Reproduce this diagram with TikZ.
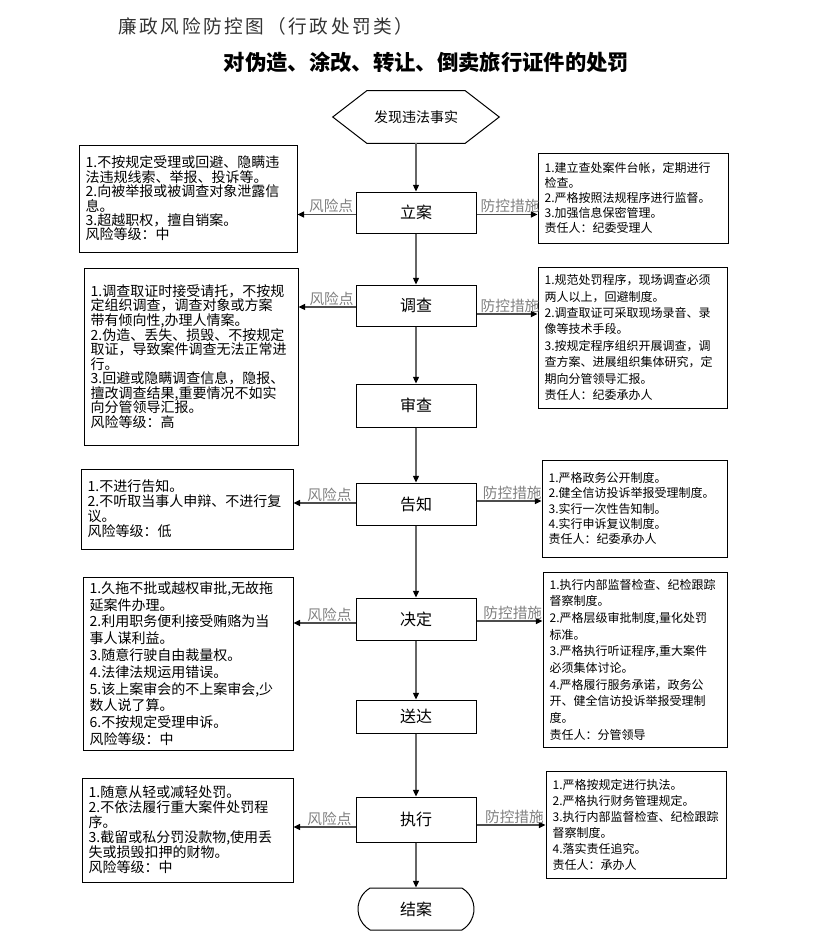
\documentclass[tikz,border=0pt]{standalone}
\usepackage{fontspec}
\setmainfont{Noto Sans CJK SC}
\newfontfamily\titlefont[LetterSpace=14]{Noto Sans CJK SC}
\usetikzlibrary{arrows.meta,shapes.misc,calc}
\begin{document}
\begin{tikzpicture}[x=0.75pt,y=-0.75pt,
  mainbox/.style={draw, line width=0.75pt, minimum width=90pt, inner sep=0pt, font=\fontsize{12}{14}\selectfont},
  lbox/.style={draw, line width=0.75pt, align=left, inner xsep=5pt, inner ysep=2pt, font={\fontsize{10.5}{#1}\selectfont\lineskiplimit=-20pt}},
  rbox/.style={draw, line width=0.75pt, align=left, inner xsep=5pt, inner ysep=2pt, font={\fontsize{9}{#1}\selectfont\lineskiplimit=-20pt}},
  conn/.style={line width=0.9pt, draw=black!60, -{Triangle[length=5pt,width=4.5pt,color=black]}},
  harr/.style={line width=1.1pt, draw=black!70, -{Triangle[length=5pt,width=4.5pt,color=black]}},
  lbl/.style={text=black!50, font=\fontsize{11}{13}\selectfont, inner sep=0.6pt, above}
]
\useasboundingbox (0,0) rectangle (823,946);

% titles
\node[anchor=west, inner sep=0pt, text=black!80, font=\titlefont\fontsize{14}{16}\selectfont] (t1) at (118,26) {廉政风险防控图（行政处罚类）};
\node[inner sep=0pt, font=\bfseries\fontsize{16}{18}\selectfont] (t2) at (426.5,62) {对伪造、涂改、转让、倒卖旅行证件的处罚};

% start hexagon
\node[minimum width=124.5pt, minimum height=39pt, inner sep=0pt, font=\fontsize{10.5}{12}\selectfont] (start) at (416,117) {发现违法事实};
\draw[line width=0.75pt] (start.west) -- ($(start.north west)+(34,0)$) -- ($(start.north east)+(-34,0)$) -- (start.east) -- ($(start.south east)+(-34,0)$) -- ($(start.south west)+(34,0)$) -- cycle;

% main column
\node[mainbox, minimum height=30.75pt] (lian) at (416,212.5) {立案};
\node[mainbox, minimum height=30.75pt] (dc) at (416,305.5) {调查};
\node[mainbox, minimum height=32.25pt] (sc) at (416,405.5) {审查};
\node[mainbox, minimum height=31.5pt] (gz) at (416,504) {告知};
\node[mainbox, minimum height=31.5pt] (jd) at (416,619) {决定};
\node[mainbox, minimum height=24.75pt] (sd) at (416,716.5) {送达};
\node[mainbox, minimum height=33.75pt] (zx) at (416,819.5) {执行};
\node[draw, line width=0.75pt, rounded rectangle, rounded rectangle arc length=120, minimum width=87pt, minimum height=31.5pt, inner sep=0pt, font=\fontsize{12}{14}\selectfont] (ja) at (416,909) {结案};

% left boxes
\node[lbox=10.8pt, minimum width=163.5pt, minimum height=80.25pt, text width=153.5pt] (L1) at (188,198.5) {1.不按规定受理或回避、隐瞒违\\法违规线索、举报、投诉等。\\2.向被举报或被调查对象泄露信\\息。\\3.超越职权，擅自销案。\\风险等级：中};
\node[lbox=10.9pt, minimum width=160.5pt, minimum height=132.75pt, text width=150.5pt] (L2) at (191,356.5) {1.调查取证时接受请托，不按规\\定组织调查，调查对象或方案\\带有倾向性,办理人情案。\\2.伪造、丢失、损毁、不按规定\\取证，导致案件调查无法正常进\\行。\\3.回避或隐瞒调查信息，隐报、\\擅改调查结果,重要情况不如实\\向分管领导汇报。\\风险等级：高};
\node[lbox=11.25pt, minimum width=159pt, minimum height=60pt, text width=149pt] (L3) at (187,509) {1.不进行告知。\\2.不听取当事人申辩、不进行复\\议。\\风险等级：低};
\node[lbox=12.6pt, minimum width=157.5pt, minimum height=129.75pt, text width=147.5pt] (L4) at (188,663.5) {1.久拖不批或越权审批,无故拖\\延案件办理。\\2.利用职务便利接受贿赂为当\\事人谋利益。\\3.随意行驶自由裁量权。\\4.法律法规运用错误。\\5.该上案审会的不上案审会,少\\数人说了算。\\6.不按规定受理申诉。\\风险等级：中};
\node[lbox=11.25pt, minimum width=158.25pt, minimum height=78pt, text width=148.25pt] (L5) at (187.5,830) {1.随意从轻或减轻处罚。\\2.不依法履行重大案件处罚程\\序。\\3.截留或私分罚没款物,使用丢\\失或损毁扣押的财物。\\风险等级：中};

% right boxes
\node[rbox=11.25pt, minimum width=142.5pt, minimum height=67.5pt, text width=132.5pt] (R1) at (633,198) {1.建立查处案件台帐，定期进行\\检查。\\2.严格按照法规程序进行监督。\\3.加强信息保密管理。\\责任人：纪委受理人};
\node[rbox=12.3pt, minimum width=141.75pt, minimum height=105.75pt, text width=131.75pt] (R2) at (632.5,337.5) {1.规范处罚程序，现场调查必须\\两人以上，回避制度。\\2.调查取证可采取现场录音、录\\像等技术手段。\\3.按规定程序组织开展调查，调\\查方案、进展组织集体研究，定\\期向分管领导汇报。\\责任人：纪委承办人};
\node[rbox=11.5pt, minimum width=138.75pt, minimum height=72.75pt, text width=128.75pt] (R3) at (634.5,508.5) {1.严格政务公开制度。\\2.健全信访投诉举报受理制度。\\3.实行一次性告知制。\\4.实行申诉复议制度。\\责任人：纪委承办人};
\node[rbox=12.5pt, minimum width=138pt, minimum height=131.25pt, text width=128pt] (R4) at (635,659.5) {1.执行内部监督检查、纪检跟踪\\督察制度。\\2.严格层级审批制度,量化处罚\\标准。\\3.严格执行听证程序,重大案件\\必须集体讨论。\\4.严格履行服务承诺，政务公\\开、健全信访投诉举报受理制\\度。\\责任人：分管领导};
\node[rbox=12pt, minimum width=135pt, minimum height=80.25pt, text width=125pt] (R5) at (636,824.5) {1.严格按规定进行执法。\\2.严格执行财务管理规定。\\3.执行内部监督检查、纪检跟踪\\督察制度。\\4.落实责任追究。\\责任人：承办人};

% vertical connectors
\draw[conn] (start.south) -- (lian.north);
\draw[conn] (lian.south) -- (dc.north);
\draw[conn] (dc.south) -- (sc.north);
\draw[conn] (sc.south) -- (gz.north);
\draw[conn] (gz.south) -- (jd.north);
\draw[conn] (jd.south) -- (sd.north);
\draw[conn] (sd.south) -- (zx.north);
\draw[conn] (zx.south) -- (ja.north);

% horizontal arrows
\draw[harr] ([yshift=-1.5pt]lian.west) -- node[lbl, pos=0.42] {风险点} ([yshift=-1.5pt]lian.west -| L1.east);
\draw[harr] ([yshift=-1.5pt]lian.east) -- node[lbl, pos=0.55] {防控措施} ([yshift=-1.5pt]lian.east -| R1.west);
\draw[harr] ([yshift=-1.1pt]dc.west) -- node[lbl, pos=0.42] {风险点} ([yshift=-1.1pt]dc.west -| L2.east);
\draw[harr] ([yshift=-6.4pt]dc.east) -- node[lbl, pos=0.55] {防控措施} ([yshift=-6.4pt]dc.east -| R2.west);
\draw[harr] ([yshift=0.75pt]gz.west) -- node[lbl, pos=0.42] {风险点} ([yshift=0.75pt]gz.west -| L3.east);
\draw[harr] ([yshift=2.25pt]gz.east) -- node[lbl, pos=0.55] {防控措施} ([yshift=2.25pt]gz.east -| R3.west);
\draw[harr] ([yshift=-3pt]jd.west) -- node[lbl, pos=0.42] {风险点} ([yshift=-3pt]jd.west -| L4.east);
\draw[harr] ([yshift=-1.5pt]jd.east) -- node[lbl, pos=0.55] {防控措施} ([yshift=-1.5pt]jd.east -| R4.west);
\draw[harr] ([yshift=-5.6pt]zx.west) -- node[lbl, pos=0.42] {风险点} ([yshift=-5.6pt]zx.west -| L5.east);
\draw[harr] ([yshift=-4.1pt]zx.east) -- node[lbl, pos=0.55] {防控措施} ([yshift=-4.1pt]zx.east -| R5.west);
\end{tikzpicture}
\end{document}
